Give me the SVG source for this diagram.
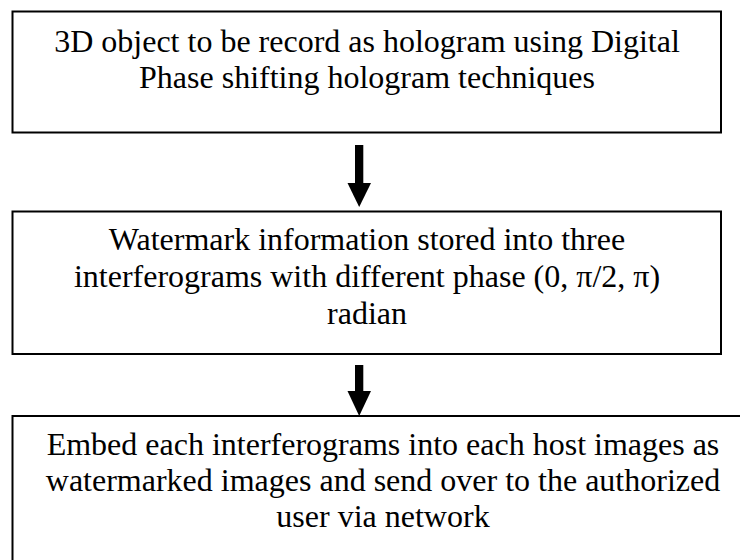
<svg xmlns="http://www.w3.org/2000/svg" width="740" height="560" viewBox="0 0 740 560">
  <style>
    .box { fill: #ffffff; stroke: #000000; stroke-width: 2; }
    .label { font-family: "Liberation Serif", "Times New Roman", serif; font-size: 32px; fill: #000000; text-anchor: middle; }
    .arrow { fill: #000000; stroke: none; }
  </style>
  <rect width="740" height="560" fill="#ffffff"/>

  <g id="node-object">
    <rect class="box" x="12.5" y="11.5" width="708.5" height="121"/>
    <text class="label" x="367" y="52">3D object to be record as hologram using Digital</text>
    <text class="label" x="367" y="88">Phase shifting hologram techniques</text>
  </g>

  <g id="node-watermark">
    <rect class="box" x="12.5" y="211.5" width="708.5" height="142.5"/>
    <text class="label" x="367" y="250">Watermark information stored into three</text>
    <text class="label" x="367" y="287">interferograms with different phase (0, π/2, π)</text>
    <text class="label" x="367" y="324">radian</text>
  </g>

  <g id="node-embed">
    <rect class="box" x="12.5" y="416" width="740" height="160"/>
    <text class="label" x="383" y="455">Embed each interferograms into each host images as</text>
    <text class="label" x="383" y="491">watermarked images and send over to the authorized</text>
    <text class="label" x="383" y="527">user via network</text>
  </g>

  <g id="connectors">
    <!-- object -> watermark -->
    <rect class="arrow" x="355" y="145" width="8.3" height="39"/>
    <polygon class="arrow" points="347.5,183 371,183 359.2,207"/>
    <!-- watermark -> embed -->
    <rect class="arrow" x="355" y="365" width="8.3" height="27"/>
    <polygon class="arrow" points="347.5,391 371,391 359.2,416"/>
  </g>
</svg>
